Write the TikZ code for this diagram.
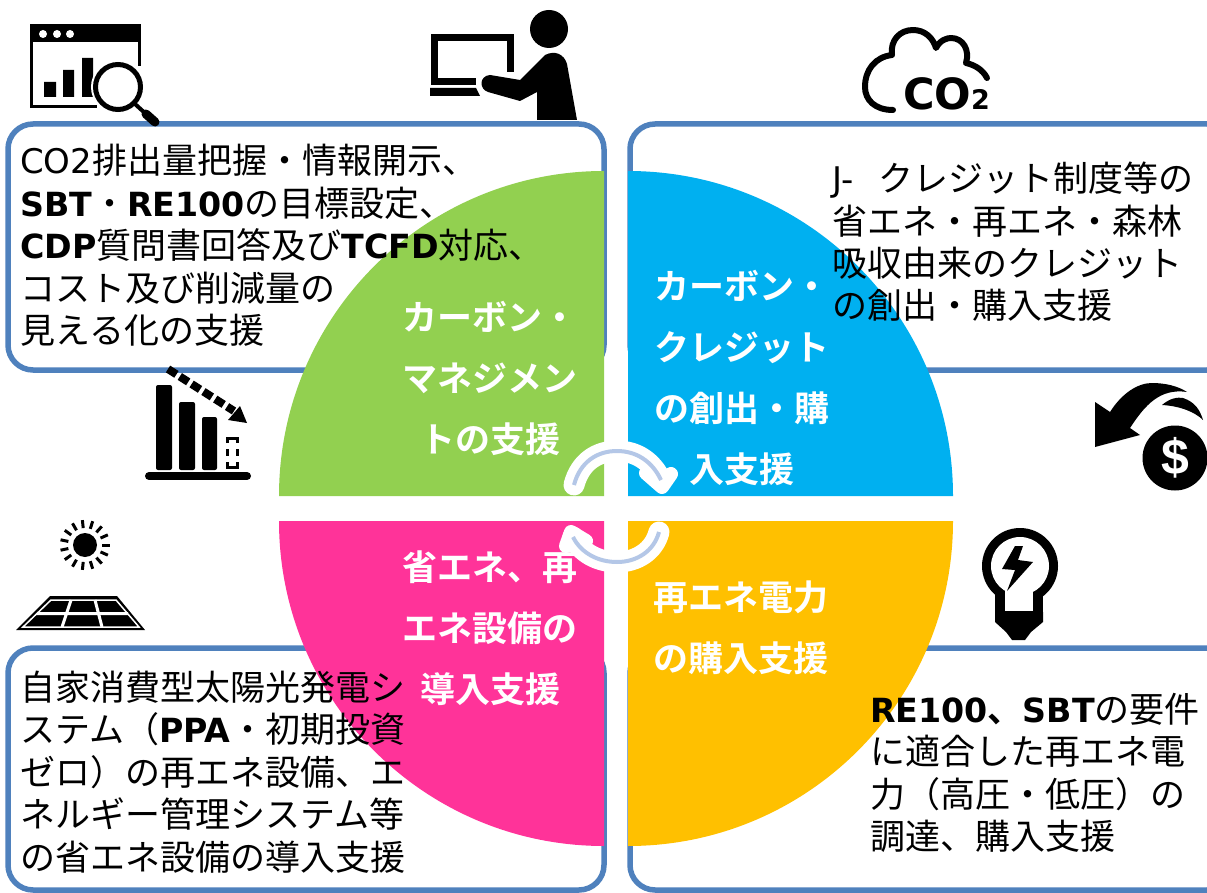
\documentclass[tikz,border=0pt]{standalone}
\usepackage{fontspec}
\setmainfont{Noto Sans CJK JP}[BoldFont={Noto Sans CJK JP Bold}]
\newfontfamily\lat[Scale=0.97]{DejaVu Sans}
\newfontfamily\latb[Scale=0.95]{DejaVu Sans}
\newfontfamily\heavy{DejaVu Sans}
\newfontfamily\heros{Liberation Sans}
\newcommand{\LR}[1]{{\lat #1}}
\newcommand{\LB}[1]{{\latb\bfseries #1}}
\definecolor{boxblue}{HTML}{4F81BD}
\definecolor{cgreen}{HTML}{92D050}
\definecolor{cblue}{HTML}{00B0F0}
\definecolor{cpink}{HTML}{FF3399}
\definecolor{cyellow}{HTML}{FFC000}
\definecolor{arrowgrey}{HTML}{B4C7E7}
\tikzset{
  panel/.style={draw=boxblue,line width=5.5pt,fill=white,rounded corners=25pt},
  boxtext/.style={anchor=base west,align=left,inner sep=0pt,text=black,font=\fontsize{35}{42.5}\selectfont},
  pielabel/.style={anchor=base,align=center,inner sep=0pt,text=white,font=\fontsize{35}{61}\selectfont\bfseries},
  pielabelL/.style={pielabel,anchor=base west,align=left},
  ink/.style={fill=black,draw=none},
  arrowhalo/.style={draw=white,line width=21pt,line cap=round,line join=round},
  arrowcore/.style={draw=arrowgrey,line width=4pt,line join=round},
}
\begin{document}
\begin{tikzpicture}[x=1pt,y=-1pt]
\useasboundingbox (0,0) rectangle (1207,893);
\clip (0,0) rectangle (1207,893);
\fill[white] (0,0) rectangle (1207,893);
% panels
\draw[panel] (8,124) rectangle (604,370);
\draw[panel] (630,124) rectangle (1232,370);
\draw[panel] (8,648) rectangle (604,890);
\draw[panel] (630,648) rectangle (1232,890);
% quarter discs
\fill[cgreen] (604,496) -- (279,496) .. controls (279,316.5) and (424.5,171) .. (604,171) -- cycle;
\fill[cblue] (628,496) -- (953,496) .. controls (953,316.5) and (807.5,171) .. (628,171) -- cycle;
\fill[cpink] (604,521) -- (279,521) .. controls (279,700.5) and (424.5,846) .. (604,846) -- cycle;
\fill[cyellow] (628,521) -- (953,521) .. controls (953,700.5) and (807.5,846) .. (628,846) -- cycle;
% circular arrows
\def\toparrow{(574,485) .. controls (580,462) and (597,451) .. (617,451) .. controls (636,451) and (652,461) .. (661,480)}
\def\botarrow{(659,532) .. controls (654,551) and (637,562) .. (617,562) .. controls (598,562) and (581,553) .. (573,537)}
\draw[arrowhalo,line width=21pt] \toparrow;
\draw[arrowhalo,line width=14pt] (646,473) -- (662,487) -- (671,474);
\draw[arrowcore] \toparrow;
\draw[arrowhalo,line width=21pt] \botarrow;
\draw[arrowhalo,line width=14pt] (586,541) -- (571,532) -- (566,546);
\draw[arrowcore] \botarrow;
% texts
\node[boxtext] (tl) at (20,343.5) {\LR{CO2}排出量把握・情報開示、\\\LB{SBT}・\LB{RE100}の目標設定、\\\LB{CDP}質問書回答及び\LB{TCFD}対応、\\コスト及び削減量の\\見える化の支援};
\node[boxtext] (tr) at (832,319) {\LR{J-} \hspace{17pt}クレジット制度等の\\省エネ・再エネ・森林\\吸収由来のクレジット\\の創出・購入支援};
\node[boxtext] (bl) at (20,870) {自家消費型太陽光発電シ\\ステム（\LB{PPA}・初期投資\\ゼロ）の再エネ設備、エ\\ネルギー管理システム等\\の省エネ設備の導入支援};
\node[boxtext] (br) at (870,849.5) {\LB{RE100}{\bfseries 、}\LB{SBT}の要件\\に適合した再エネ電\\力（高圧・低圧）の\\調達、購入支援};
\node[pielabel] (lg) at (490,452) {カーボン・\\マネジメン\\トの支援};
\node[pielabel] (lb) at (742,482) {カーボン・\\クレジット\\の創出・購\\入支援};
\node[pielabel] (lp) at (490,702) {省エネ、再\\エネ設備の\\導入支援};
\node[pielabelL] (ly) at (653,671) {再エネ電力\\の購入支援};
% window and magnifier icon
\fill[black] (30,24) rectangle (141,42);
\draw[black,line width=3pt] (31.5,40) -- (31.5,106.5) -- (97,106.5);
\draw[black,line width=3pt] (139,40) -- (139,66);
\fill[white] (43,34) circle (4) (57,34) circle (4) (70,34) circle (4);
\fill[black] (44,82) rectangle (56,97) (63,70) rectangle (74,97) (82,58) rectangle (93,97);
\draw[white,fill=white,line width=9pt] (118,87) circle (22.5);
\draw[black,fill=white,line width=5pt] (118,87) circle (22.5);
\draw[black,line width=4pt] (135,104) -- (146,114);
\draw[black,line width=9pt,line cap=round] (146,114) -- (155,122);
% person with laptop
\fill[ink] (549,29) circle (19);
\draw[black,line width=7pt] (510.5,72) -- (510.5,37.5) -- (434.5,37.5) -- (434.5,82) -- (476,82);
\fill[ink] (430,88) -- (476,88) -- (480,96) -- (430,96) -- cycle;
\draw[white,line width=4pt,line join=round,line cap=round] (520,101) -- (488,92) .. controls (479,89) and (479,76) .. (490,75) -- (520,80);
\fill[ink] (537,120) -- (537,92) -- (520,101) -- (488,92) .. controls (479,89) and (479,76) .. (490,75) -- (520,80) -- (545,55) .. controls (555,50) and (564,54) .. (567,64) -- (577,120) -- cycle;
% cloud with CO2
\draw[black,line width=6pt,line cap=round,line join=round] (893,110) .. controls (875,110) and (865,100) .. (865,87) .. controls (865,70) and (875,57) .. (892,55) .. controls (890,40) and (900,30) .. (913,30) .. controls (925,30) and (933,38) .. (936,48) .. controls (940,40) and (947,38) .. (951,38) .. controls (963,38) and (970,50) .. (966,63) .. controls (975,65) and (983,70) .. (987,78);
\node[anchor=base west,inner sep=0pt,font=\fontsize{43}{43}\selectfont\heavy\bfseries] (co) at (903,110) {CO};
\node[anchor=base west,inner sep=0pt,font=\fontsize{27}{27}\selectfont\heavy\bfseries] (two) at (971,110) {2};
% declining bars
\fill[ink,rounded corners=2pt] (156,385) rectangle (172,470) (179,402) rectangle (195,470) (202,417) rectangle (217,470);
\draw[black,line width=3pt] (227.5,443) -- (227.5,438.5) -- (237.5,438.5) -- (237.5,443) (227.5,449) -- (227.5,456) (237.5,449) -- (237.5,456) (227.5,462) -- (227.5,467) -- (237.5,467) -- (237.5,462);
\draw[black,line width=8pt,line cap=round] (149,476) -- (247,476);
\draw[black,line width=8pt,dash pattern=on 10pt off 4pt] (168,369) -- (234,411);
\fill[ink] (247,423) -- (240,406) -- (228,420) -- cycle;
% dollar arrow
\fill[ink] (1095,402) -- (1110,412) .. controls (1122,393) and (1138,383) .. (1152,383) .. controls (1165,383) and (1178,386) .. (1187,392) .. controls (1160,388) and (1145,405) .. (1130,428) -- (1140,435) -- (1095,447) -- cycle;
\fill[ink] (1162,405) .. controls (1170,398) and (1178,397) .. (1183,398) .. controls (1195,402) and (1200,410) .. (1203,420) .. controls (1195,412) and (1180,406) .. (1162,405) -- cycle;
\fill[ink] (1175,458) circle (32.5);
\node[inner sep=0pt,text=white,font=\fontsize{50}{50}\selectfont\heros\bfseries] (dollar) at (1175,458) {\$};
% light bulb
\fill[ink] (1020,566) circle (38);
\fill[ink] (995,585) rectangle (1043,612);
\fill[ink] (995,612) -- (1043,612) -- (1043,622) -- (1031,632) -- (1025,640) -- (1012,640) -- (1006,632) -- (995,622) -- cycle;
\fill[white] (1020,566) circle (29);
\fill[white] (1005,580) rectangle (1033,611);
\fill[ink] (1015,546) -- (1023,546) -- (1018,560) -- (1033,562) -- (1007,591) -- (1015,570) -- (1002,569) -- cycle;
% sun
\fill[ink] (85,545) circle (12);
\foreach \a in {0,24,...,336}{\draw[black,line width=3pt] ([shift={(\a:17)}]85,545) -- ([shift={(\a:25)}]85,545);}
% solar panel
\fill[ink] (50,596) -- (117,596) -- (145,630) -- (16,630) -- cycle;
\draw[white,line width=1.5pt] (51,600) -- (116,600) -- (139,627) -- (23,627) -- cycle;
\draw[white,line width=3pt] (37,613.5) -- (128,613.5) (71,600) -- (62,627) (95,600) -- (102,627);
\end{tikzpicture}
\end{document}
